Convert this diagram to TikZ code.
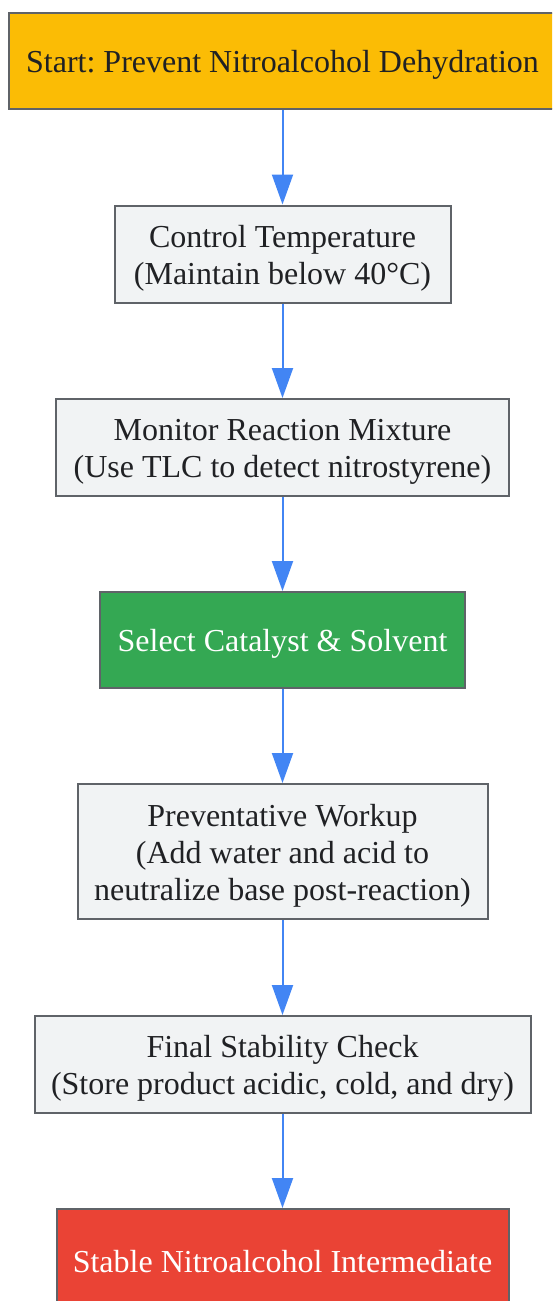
\documentclass[tikz,border=0pt]{standalone}
\usepackage{fontspec}
\setmainfont{Liberation Serif}
\usetikzlibrary{arrows.meta}
\frenchspacing
\definecolor{bordergrey}{HTML}{5F6368}
\definecolor{boxgrey}{HTML}{F1F3F4}
\definecolor{startyellow}{HTML}{FBBC05}
\definecolor{okgreen}{HTML}{34A853}
\definecolor{endred}{HTML}{EA4335}
\definecolor{arrowblue}{HTML}{4285F4}
\definecolor{textdark}{HTML}{202124}
\newcommand{\topstrut}{\rule{0pt}{30pt}}
\tikzset{
  flowbox/.style={draw=bordergrey, line width=2pt, fill=boxgrey, text=textdark,
    align=center, inner sep=0pt, font=\fontsize{32}{37}\selectfont\frenchspacing},
  startbox/.style={flowbox, fill=startyellow},
  greenbox/.style={flowbox, fill=okgreen, text=white},
  redbox/.style={flowbox, fill=endred, text=white},
  flowarrow/.style={draw=arrowblue, line width=2pt, -{Triangle[length=30pt,width=21pt]}}
}
\begin{document}
\begin{tikzpicture}[x=1pt,y=1pt]
\useasboundingbox (0,0) rectangle (552,-1301);
\begin{scope}
\clip (0,0) rectangle (552,-1301);
\node[startbox, minimum width=548pt, minimum height=95.5pt] (n1) at (282.5,-61) {\topstrut Start: Prevent Nitroalcohol Dehydration};
\node[flowbox, minimum width=336pt, minimum height=97pt] (n2) at (282.5,-254) {\topstrut Control Temperature\\(Maintain below 40°C)};
\node[flowbox, minimum width=453pt, minimum height=97pt] (n3) at (282.5,-447.5) {\topstrut Monitor Reaction Mixture\\(Use TLC to detect nitrostyrene)};
\node[greenbox, minimum width=365pt, minimum height=96pt] (n4) at (282.5,-640) {\topstrut Select Catalyst \& Solvent};
\node[flowbox, minimum width=410pt, minimum height=135pt] (n5) at (282.5,-851.5) {\topstrut Preventative Workup\\(Add water and acid to\\neutralize base post-reaction)};
\node[flowbox, minimum width=496pt, minimum height=97pt] (n6) at (282.5,-1064.5) {\topstrut Final Stability Check\\(Store product acidic, cold, and dry)};
\node[redbox, minimum width=452pt, minimum height=98pt] (n7) at (282.5,-1258) {\topstrut Stable Nitroalcohol Intermediate};
\draw[flowarrow] (n1) -- (n2);
\draw[flowarrow] (n2) -- (n3);
\draw[flowarrow] (n3) -- (n4);
\draw[flowarrow] (n4) -- (n5);
\draw[flowarrow] (n5) -- (n6);
\draw[flowarrow] (n6) -- (n7);
\end{scope}
\end{tikzpicture}
\end{document}
